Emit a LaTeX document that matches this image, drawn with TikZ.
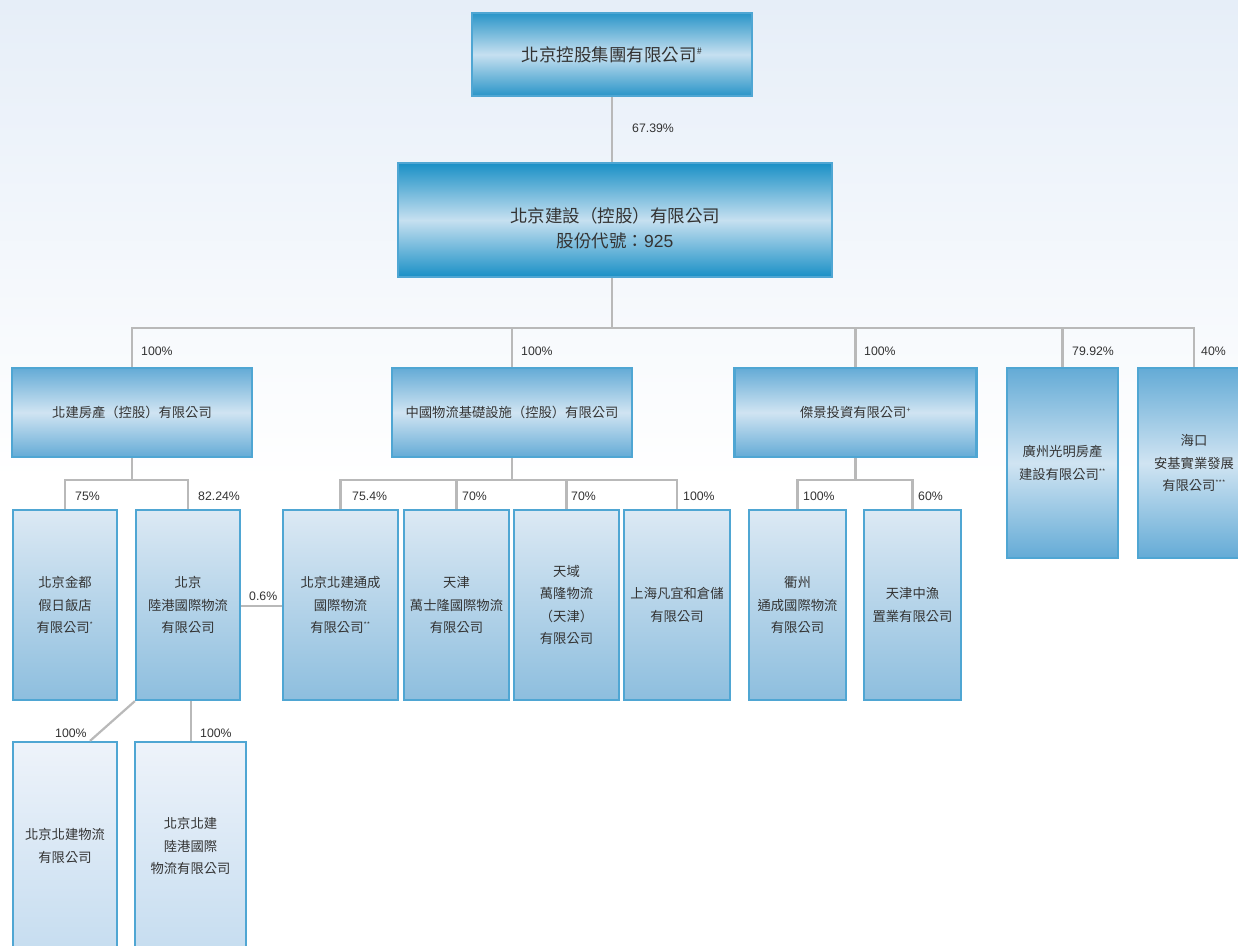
\documentclass[tikz,border=0pt]{standalone}
\usepackage{fontspec}
\setmainfont{Liberation Sans}
\newfontfamily\cjk{Noto Sans CJK TC}
\definecolor{bgtop}{HTML}{E6EEF8}
\definecolor{linegray}{HTML}{B9B9B9}
\definecolor{boxborder}{HTML}{4FA6D3}
\definecolor{textcol}{HTML}{333333}
\definecolor{topdark}{HTML}{2A95C8}
\definecolor{toplight}{HTML}{C6E0F0}
\definecolor{middark}{HTML}{1A90C6}
\definecolor{lvtwodark}{HTML}{64ABD6}
\definecolor{lvtwolight}{HTML}{D0E4F2}
\definecolor{lvthreetop}{HTML}{DCE9F4}
\definecolor{lvthreebot}{HTML}{8DBEDE}
\definecolor{lvfourtop}{HTML}{EEF3FA}
\definecolor{lvfourbot}{HTML}{C6DDF0}
\begin{document}
\begin{tikzpicture}[x=1pt,y=-1pt,
  conn/.style={draw=linegray, line width=2.2pt},
  boxbase/.style={draw=boxborder, line width=2.2pt, align=center, text=textcol, inner sep=0pt,
    font=\cjk\fontsize{13.3}{22.5}\selectfont},
  boxtop/.style={boxbase, top color=topdark, bottom color=topdark, middle color=toplight,
    font=\cjk\fontsize{17.5}{25}\selectfont},
  boxmid/.style={boxbase, top color=middark, bottom color=middark, middle color=toplight,
    font=\cjk\fontsize{17.5}{25}\selectfont},
  boxtwo/.style={boxbase, top color=lvtwodark, bottom color=lvtwodark, middle color=lvtwolight},
  boxthree/.style={boxbase, top color=lvthreetop, bottom color=lvthreebot},
  boxfour/.style={boxbase, top color=lvfourtop, bottom color=lvfourbot},
  boxtext/.style={align=center, text=textcol, inner sep=0pt, font=\cjk\fontsize{17.5}{25}\selectfont},
  pct/.style={font=\fontsize{12.3}{12}\selectfont, text=textcol, anchor=west, inner sep=0pt}
]
\useasboundingbox (0,0) rectangle (1238,945);
\clip (0,0) rectangle (1238,945);
\fill[white] (0,0) rectangle (1238,945);
\shade[top color=bgtop, bottom color=white] (0,0) rectangle (1238,480);

% ---------- nodes ----------
\node[boxtop, minimum width=280pt, minimum height=83pt] (top) at (612,54.5)
  {北京控股集團有限公司\textsuperscript{\fontsize{9}{9}\selectfont\#}};
\node[boxmid, minimum width=434pt, minimum height=114pt] (mid) at (615,220) {};
\node[boxtext] (midtext) at ([yshift=-8pt]mid.center)
  {北京建設（控股）有限公司\\股份代號：{\rmfamily 925}};

\node[boxtwo, minimum width=240pt, minimum height=89pt] (A) at (132,412.5) {北建房產（控股）有限公司};
\node[boxtwo, minimum width=240pt, minimum height=89pt] (B) at (512,412.5) {中國物流基礎設施（控股）有限公司};
\node[boxtwo, minimum width=242pt, minimum height=89pt] (C) at (855.5,412.5)
  {傑景投資有限公司\textsuperscript{\fontsize{7}{7}\selectfont +}};
\node[boxtwo, minimum width=111pt, minimum height=190pt] (D) at (1062.5,463)
  {廣州光明房產\\建設有限公司\textsuperscript{\fontsize{7}{7}\selectfont **}};
\node[boxtwo, minimum width=112pt, minimum height=190pt] (E) at (1194,463)
  {海口\\安基實業發展\\有限公司\textsuperscript{\fontsize{7}{7}\selectfont ***}};

\node[boxthree, minimum width=104pt, minimum height=190pt] (A1) at (65,605)
  {北京金都\\假日飯店\\有限公司\textsuperscript{\fontsize{7}{7}\selectfont *}};
\node[boxthree, minimum width=104pt, minimum height=190pt] (A2) at (188,605)
  {北京\\陸港國際物流\\有限公司};
\node[boxthree, minimum width=115pt, minimum height=190pt] (B1) at (340.5,605)
  {北京北建通成\\國際物流\\有限公司\textsuperscript{\fontsize{7}{7}\selectfont **}};
\node[boxthree, minimum width=105pt, minimum height=190pt] (B2) at (456.5,605)
  {天津\\萬士隆國際物流\\有限公司};
\node[boxthree, minimum width=105pt, minimum height=190pt] (B3) at (566.5,605)
  {天域\\萬隆物流\\（天津）\\有限公司};
\node[boxthree, minimum width=106pt, minimum height=190pt] (B4) at (677,605)
  {上海凡宜和倉儲\\有限公司};
\node[boxthree, minimum width=97pt, minimum height=190pt] (C1) at (797.5,605)
  {衢州\\通成國際物流\\有限公司};
\node[boxthree, minimum width=97pt, minimum height=190pt] (C2) at (912.5,605)
  {天津中漁\\置業有限公司};

\node[boxfour, minimum width=104pt, minimum height=208pt] (A3) at (65,846)
  {北京北建物流\\有限公司};
\node[boxfour, minimum width=111pt, minimum height=208pt] (A4) at (190.5,846)
  {北京北建\\陸港國際\\物流有限公司};

% ---------- connectors ----------
\coordinate (bus) at (612,328);
\coordinate (busA) at (132,480);
\coordinate (busB) at (512,480);
\coordinate (busC) at (855.5,480);

\draw[conn] (top.south) -- (top.south |- mid.north);
\draw[conn] (mid.south -| top.south) -- (bus);
\draw[conn] (A.north) |- (bus) -| (E.north);
\draw[conn] (B.north) -- (B.north |- bus);
\draw[conn] (C.north) -- (C.north |- bus);
\draw[conn] (D.north) -- (D.north |- bus);

\draw[conn] (A.south) -- (busA);
\draw[conn] (A1.north) |- (busA) -| (A2.north);
\draw[conn] (B.south) -- (busB);
\draw[conn] (B1.north) |- (busB) -| (B4.north);
\draw[conn] (B2.north) -- (B2.north |- busB);
\draw[conn] (B3.north) -- (B3.north |- busB);
\draw[conn] (C.south) -- (busC);
\draw[conn] (C1.north) |- (busC) -| (C2.north);

\draw[conn] (A2.east |- 0,606) -- (B1.west |- 0,606);
\draw[conn] (A2.south west) -- (A3.north -| 90,0);
\draw[conn] (A2.south -| 191,0) -- (A4.north -| 191,0);

% ---------- labels ----------
\node[pct] (p0) at (632,128) {67.39\%};
\node[pct] (p1) at (141,351) {100\%};
\node[pct] (p2) at (521,351) {100\%};
\node[pct] (p3) at (864,351) {100\%};
\node[pct] (p4) at (1072,351) {79.92\%};
\node[pct] (p5) at (1201,351) {40\%};

\node[pct] (p6) at (75,496) {75\%};
\node[pct] (p7) at (198,496) {82.24\%};
\node[pct] (p8) at (352,496) {75.4\%};
\node[pct] (p9) at (462,496) {70\%};
\node[pct] (p10) at (571,496) {70\%};
\node[pct] (p11) at (683,496) {100\%};
\node[pct] (p12) at (803,496) {100\%};
\node[pct] (p13) at (918,496) {60\%};

\node[pct] (p14) at (249,596) {0.6\%};
\node[pct] (p15) at (55,733) {100\%};
\node[pct] (p16) at (200,733) {100\%};
\end{tikzpicture}
\end{document}
